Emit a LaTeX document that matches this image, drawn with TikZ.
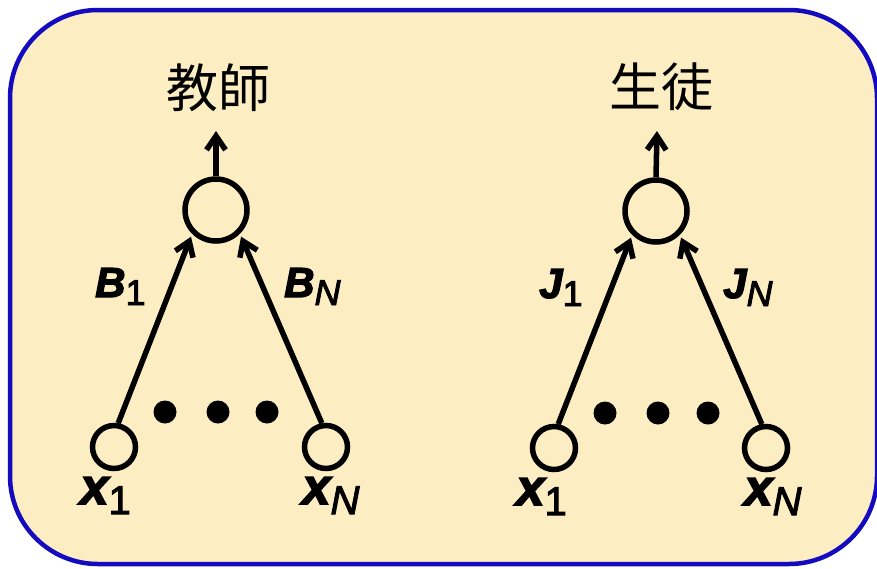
\documentclass[tikz,border=0pt]{standalone}
\usepackage{fontspec}
\setmainfont{Liberation Sans}
\newfontfamily\cjk{Noto Sans CJK JP}
\usetikzlibrary{arrows.meta}
\definecolor{boxfill}{RGB}{253,237,194}
\definecolor{boxline}{RGB}{20,10,190}
\font\wbig="Liberation Sans/BI:embolden=3" at 42pt
\font\wsub="Liberation Sans:embolden=2.5" at 36pt
\font\wsubi="Liberation Sans/I:embolden=2.5" at 36pt
\font\xbig="Liberation Sans/BI:embolden=3" at 51pt
\font\xsub="Liberation Sans:embolden=2.5" at 40pt
\font\xsubi="Liberation Sans/I:embolden=2.5" at 40pt
\newcommand{\wlab}[2]{{\wbig #1}\raisebox{-8pt}{#2}}
\newcommand{\xlab}[1]{{\xbig x}\raisebox{-10pt}{#1}}
\tikzset{
  bigc/.style={circle, draw, line width=5.5pt, minimum size=62pt, inner sep=0pt},
  smallc/.style={circle, draw, line width=5.5pt, minimum size=43pt, inner sep=0pt},
  bigdot/.style={circle, fill, minimum size=23pt, inner sep=0pt},
  conn/.style={-{Straight Barb[length=14pt,width=19pt]}, line width=5.5pt},
  lab/.style={anchor=base west, inner sep=0pt},
  title/.style={font=\cjk\fontsize{52}{52}\selectfont, inner sep=0pt}
}
\begin{document}
\begin{tikzpicture}[x=1pt,y=-1pt]
\useasboundingbox (0,0) rectangle (877,568);
\draw[boxline, line width=4.5pt, fill=boxfill, rounded corners=88pt] (10,10) rectangle (877,564);
% left
\node[title] (tL) at (218,88) {教師};
\node[bigc] (TL) at (216,210) {};
\coordinate (tipL) at (216,131);
\node[smallc] (L1) at (114,447) {};
\node[smallc] (LN) at (326,447) {};
\node[bigdot] (dl1) at (165,412) {};
\node[bigdot] (dl2) at (218,412) {};
\node[bigdot] (dl3) at (267,412) {};
\draw[conn] (TL.north) -- (tipL);
\draw[conn, shorten >=3pt] (L1.80) -- (TL.225);
\draw[conn, shorten >=3pt] (LN.100) -- (TL.315);
\node[lab] (bl1) at (95,297) {\wlab{B}{\wsub 1}};
\node[lab] (blN) at (284,297) {\wlab{B}{\wsubi N}};
\node[lab] (xl1) at (80,504) {\xlab{\xsub 1}};
\node[lab] (xlN) at (302,504) {\xlab{\xsubi N}};
% right
\node[title] (tR) at (661,87) {生徒};
\node[bigc] (TR) at (656,211) {};
\coordinate (tipR) at (657,131);
\node[smallc] (R1) at (554,448) {};
\node[smallc] (RN) at (766,448) {};
\node[bigdot] (dr1) at (605,413) {};
\node[bigdot] (dr2) at (658,413) {};
\node[bigdot] (dr3) at (708,413) {};
\draw[conn] (TR.north) -- (tipR);
\draw[conn, shorten >=3pt] (R1.80) -- (TR.225);
\draw[conn, shorten >=3pt] (RN.100) -- (TR.315);
\node[lab] (jr1) at (539,298) {\wlab{J}{\wsub 1}};
\node[lab] (jrN) at (723,298) {\wlab{J}{\wsubi N}};
\node[lab] (xr1) at (516,505) {\xlab{\xsub 1}};
\node[lab] (xrN) at (744,505) {\xlab{\xsubi N}};
\end{tikzpicture}
\end{document}
